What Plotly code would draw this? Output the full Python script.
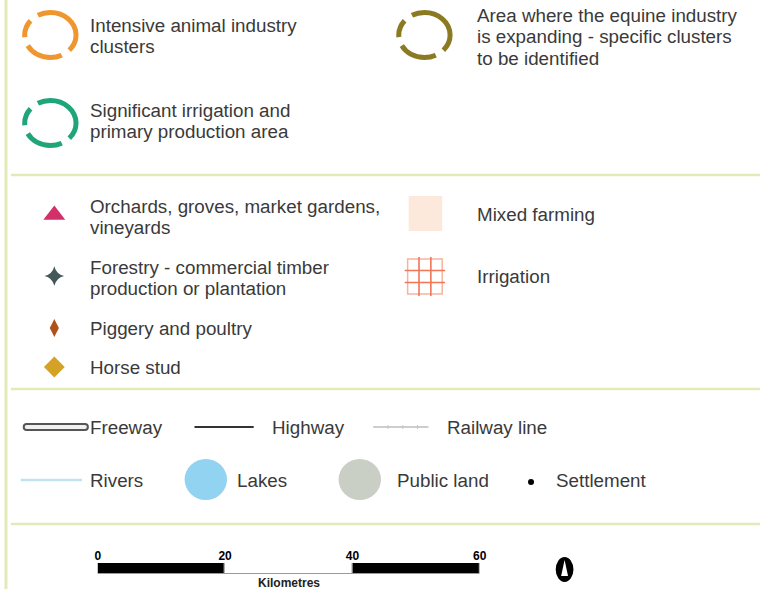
import plotly.graph_objects as go

# ---------------- data (legend content) ----------------
area_labels = [
    ["Intensive animal industry", "clusters"],
    ["Area where the equine industry", "is expanding - specific clusters", "to be identified"],
    ["Significant irrigation and", "primary production area"],
]
point_labels = [
    ["Orchards, groves, market gardens,", "vineyards"],
    ["Forestry - commercial timber", "production or plantation"],
    ["Piggery and poultry"],
    ["Horse stud"],
]
landuse_labels = ["Mixed farming", "Irrigation"]
line_labels = ["Freeway", "Highway", "Railway line"]
feature_labels = ["Rivers", "Lakes", "Public land", "Settlement"]
scale_ticks = [0, 20, 40, 60]          # kilometres
scale_segments = [20, 20, 20]          # segment lengths (km)
scale_unit = "Kilometres"

# ---------------- styles ----------------
W, H = 767, 589
FONT = "Liberation Sans, Arial, sans-serif"
TXT = "#3a3a3a"
FS = 18.8
LH = 21.5
LCOL, RCOL = 87, 479
BORDER = "#e4e9b8"
area_colors = ["#f0962e", "#8c7a22", "#1fa57a"]
RING_DASH = "17px,9px,38px,9px,18px,9px,52px"
point_symbols = ["triangle-up", "star-diamond", "diamond-tall", "diamond"]
point_colors = ["#d3306a", "#44585a", "#b0531a", "#d4a226"]
point_sizes = [19, 14, 13, 16]

fig = go.Figure()
shapes = []
ann = []

def text(x, y, s, size=FS, anchor="left", xref="x", yref="y", color=TXT):
    ann.append(dict(x=x, y=y, xref=xref, yref=yref, text=s,
                    showarrow=False, xanchor=anchor, yanchor="middle", align="left",
                    borderpad=0, font=dict(family=FONT, size=size, color=color)))

def block(x, y_first, lines):
    for i, s in enumerate(lines):
        text(x, y_first + i * LH, s)

# frame: left border + dividers
shapes.append(dict(type="line", x0=3, x1=3, y0=0, y1=H, line=dict(color=BORDER, width=3)))
for yy in (175, 389, 524):
    shapes.append(dict(type="line", x0=8, x1=W, y0=yy, y1=yy, line=dict(color=BORDER, width=2.5)))

# ---- section 1: dashed ellipses ----
area_pos = [(48, 35, LCOL, 25), (427, 35, RCOL, 15), (48, 123, LCOL, 110)]
for (cx, cy, tx, ty), lab, col in zip(area_pos, area_labels, area_colors):
    shapes.append(dict(type="circle", x0=cx - 26, x1=cx + 26, y0=cy - 22.5, y1=cy + 22.5,
                       line=dict(color=col, width=5, dash=RING_DASH)))
    block(tx, ty, lab)

# ---- section 2: point symbols ----
point_rows = [(215, 206), (276, 267), (328, 328), (367, 367)]
fig.add_trace(go.Scatter(
    x=[52] * len(point_labels), y=[r[0] for r in point_rows], mode="markers",
    marker=dict(symbol=point_symbols, color=point_colors, size=point_sizes,
                opacity=1, line=dict(width=0)),
    hoverinfo="skip", showlegend=False))
for (sy, ty), lab in zip(point_rows, point_labels):
    block(LCOL, ty, lab)

# mixed farming swatch
shapes.append(dict(type="rect", x0=411, x1=445, y0=196, y1=231, fillcolor="#fde9dc",
                   line=dict(width=0), layer="below"))
text(RCOL, 214, landuse_labels[0])
# irrigation grid
IRR = "#ef7656"
shapes.append(dict(type="rect", x0=410, x1=445, y0=259, y1=294, line=dict(color="#f6b3a0", width=1.5)))
for gx in (421.5, 433.5):
    shapes.append(dict(type="line", x0=gx, x1=gx, y0=257, y1=296, line=dict(color=IRR, width=1.6)))
for gy in (270.5, 282.5):
    shapes.append(dict(type="line", x0=407, x1=448, y0=gy, y1=gy, line=dict(color=IRR, width=1.6)))
text(RCOL, 276, landuse_labels[1])

# ---- section 3: lines & features ----
# freeway (rounded capsule)
shapes.append(dict(type="path",
                   path="M 24 424 L 83 424 C 87 424 87 430 83 430 L 24 430 C 20 430 20 424 24 424 Z",
                   fillcolor="#f0f0f0", line=dict(color="#555555", width=2)))
text(LCOL, 427, line_labels[0])
# highway
shapes.append(dict(type="line", x0=194, x1=254, y0=427, y1=427, line=dict(color="#333333", width=2)))
text(272, 427, line_labels[1])
# railway
shapes.append(dict(type="line", x0=375, x1=431, y0=427, y1=427, line=dict(color="#bdbdbd", width=1.5)))
for rx in (390, 405, 420):
    shapes.append(dict(type="line", x0=rx, x1=rx, y0=425, y1=429, line=dict(color="#c8c8c8", width=1)))
text(449, 427, line_labels[2])
# rivers
shapes.append(dict(type="line", x0=18, x1=80, y0=480, y1=480, line=dict(color="#bfe3f3", width=2.5)))
text(LCOL, 480, feature_labels[0])
# lakes
shapes.append(dict(type="circle", x0=184, x1=227, y0=459, y1=500, fillcolor="#92d3f1", line=dict(width=0)))
text(236, 480, feature_labels[1])
# public land
shapes.append(dict(type="circle", x0=340, x1=383, y0=459, y1=500, fillcolor="#c9cfc5", line=dict(width=0)))
text(398, 480, feature_labels[2])
# settlement
fig.add_trace(go.Scatter(x=[535], y=[482], mode="markers", marker=dict(color="black", size=6),
                         hoverinfo="skip", showlegend=False))
text(559, 480, feature_labels[3])

# ---- section 4: scale bar (own axis in km) ----
bases = [sum(scale_segments[:i]) for i in range(len(scale_segments))]
fig.add_trace(go.Bar(
    x=scale_segments, y=[0] * len(scale_segments), base=bases, orientation="h",
    marker=dict(color=["black", "white", "black"], line=dict(color="#9a9a9a", width=1)),
    width=1, xaxis="x2", yaxis="y2", hoverinfo="skip", showlegend=False))
ann.append(dict(x=30, y=583, xref="x2", yref="y", text="<b>%s</b>" % scale_unit, showarrow=False,
                xanchor="center", yanchor="middle",
                font=dict(family="Liberation Sans Narrow, Liberation Sans, Arial", size=12, color="#222")))

# north arrow
shapes.append(dict(type="circle", x0=560, x1=578, y0=557, y1=582, fillcolor="black", line=dict(width=0)))
shapes.append(dict(type="path", path="M 569 560 L 565.5 576 L 572.5 576 Z", fillcolor="white", line=dict(width=0)))

fig.update_layout(
    width=W, height=H, margin=dict(l=0, r=0, t=0, b=0),
    paper_bgcolor="white", plot_bgcolor="white",
    xaxis=dict(range=[0, W], domain=[0, 1], visible=False, fixedrange=True),
    yaxis=dict(range=[H, 0], domain=[0, 1], visible=False, fixedrange=True),
    xaxis2=dict(range=[0, 60], domain=[96 / W, 483 / W], anchor="y2", side="top",
                tickvals=scale_ticks, ticktext=["<b>%d</b>" % t for t in scale_ticks],
                showline=False, showgrid=False, zeroline=False, ticks="", fixedrange=True,
                tickfont=dict(family="Liberation Sans Narrow, Liberation Sans, Arial", size=12, color="black")),
    yaxis2=dict(range=[-0.5, 0.5], domain=[(H - 574) / H, (H - 563) / H], anchor="x2",
                visible=False, fixedrange=True),
    shapes=shapes, annotations=ann, showlegend=False, bargap=0,
)
fig.write_html("out.html", config={"displayModeBar": False},
               post_script="document.body.style.margin='0';document.body.style.overflow='hidden';")
